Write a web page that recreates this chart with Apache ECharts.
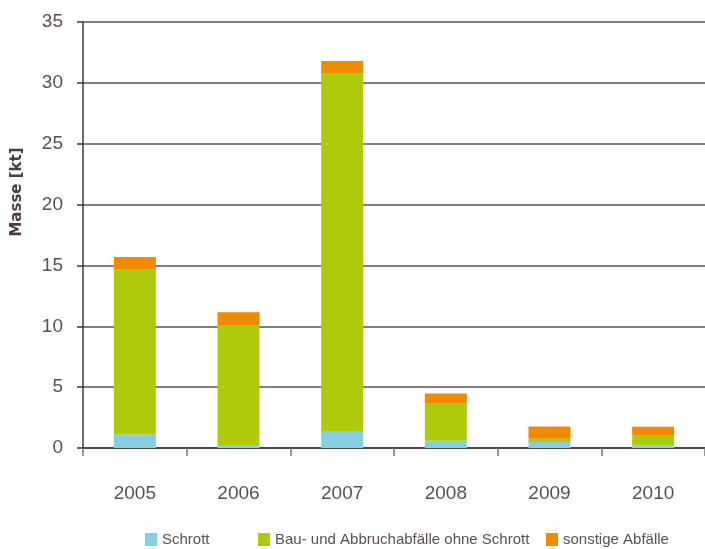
<!DOCTYPE html>
<html>
<head>
<meta charset="utf-8">
<script src="https://cdn.jsdelivr.net/npm/echarts@6/dist/echarts.min.js"></script>
<style>
  html, body { margin: 0; padding: 0; background: #fff; }
  #chart { width: 705px; height: 549px; }
</style>
</head>
<body>
<div id="chart"></div>
<script>
// Abfallmengen nach Jahr, gestapelt nach Fraktion (kt)
const years = ['2005', '2006', '2007', '2008', '2009', '2010'];
const schrott = [1.1, 0.25, 1.4, 0.6, 0.5, 0.2];
const bauAbbruch = [13.6, 9.8, 29.4, 3.1, 0.27, 0.87];
const sonstige = [1.0, 1.1, 1.0, 0.77, 1.0, 0.68];
const yTicks = [0, 5, 10, 15, 20, 25, 30, 35];
const yAxisTitle = 'Masse [kt]';

const seriesNames = ['Schrott', 'Bau- und Abbruchabfälle ohne Schrott', 'sonstige Abfälle'];
const seriesColors = ['#86cfe3', '#afca0b', '#f08a00'];
const seriesData = [schrott, bauAbbruch, sonstige];

const FONT = '"Liberation Sans", Arial, sans-serif';
const TEXT = '#5b504b';
const legendLeft = [140, 253, 541];

const chart = echarts.init(document.getElementById('chart'), null, { renderer: 'canvas' });

chart.setOption({
  animation: false,
  backgroundColor: '#ffffff',
  grid: { left: 83, top: 22, bottom: 101, width: 628, containLabel: false },
  legend: seriesNames.map((name, i) => ({
    data: [name],
    left: legendLeft[i],
    top: 527,
    itemWidth: 12,
    itemHeight: 13,
    itemGap: 0,
    icon: 'rect',
    textStyle: { fontFamily: FONT, fontSize: 15, color: TEXT }
  })),
  graphic: [{
    type: 'text',
    x: 17,
    y: 192,
    rotation: Math.PI / 2,
    style: {
      text: yAxisTitle,
      fontFamily: '"DejaVu Sans", sans-serif',
      fontWeight: 'bold',
      fontSize: 15,
      fill: '#4a3f3b',
      textAlign: 'center',
      textVerticalAlign: 'middle'
    }
  }],
  xAxis: {
    type: 'category',
    data: years,
    axisLine: { lineStyle: { color: '#3a3a3a', width: 1.5 } },
    axisTick: { show: true, length: 8, lineStyle: { color: '#777', width: 1.5 } },
    axisLabel: { fontFamily: FONT, fontSize: 19, color: TEXT, margin: 36 }
  },
  yAxis: {
    type: 'value',
    min: yTicks[0],
    max: yTicks[yTicks.length - 1],
    interval: 5,
    axisLine: { show: true, lineStyle: { color: '#3a3a3a', width: 1.5 } },
    axisTick: { show: true, inside: false, length: 6, lineStyle: { color: '#3a3a3a', width: 1.5 } },
    splitLine: { show: true, lineStyle: { color: '#555555', width: 1.5 } },
    axisLabel: { fontFamily: FONT, fontSize: 19, color: TEXT, margin: 20 }
  },
  series: seriesNames.map((name, i) => ({
    name: name,
    type: 'bar',
    stack: 'total',
    barWidth: 42,
    data: seriesData[i],
    itemStyle: { color: seriesColors[i] }
  }))
});
</script>
</body>
</html>
